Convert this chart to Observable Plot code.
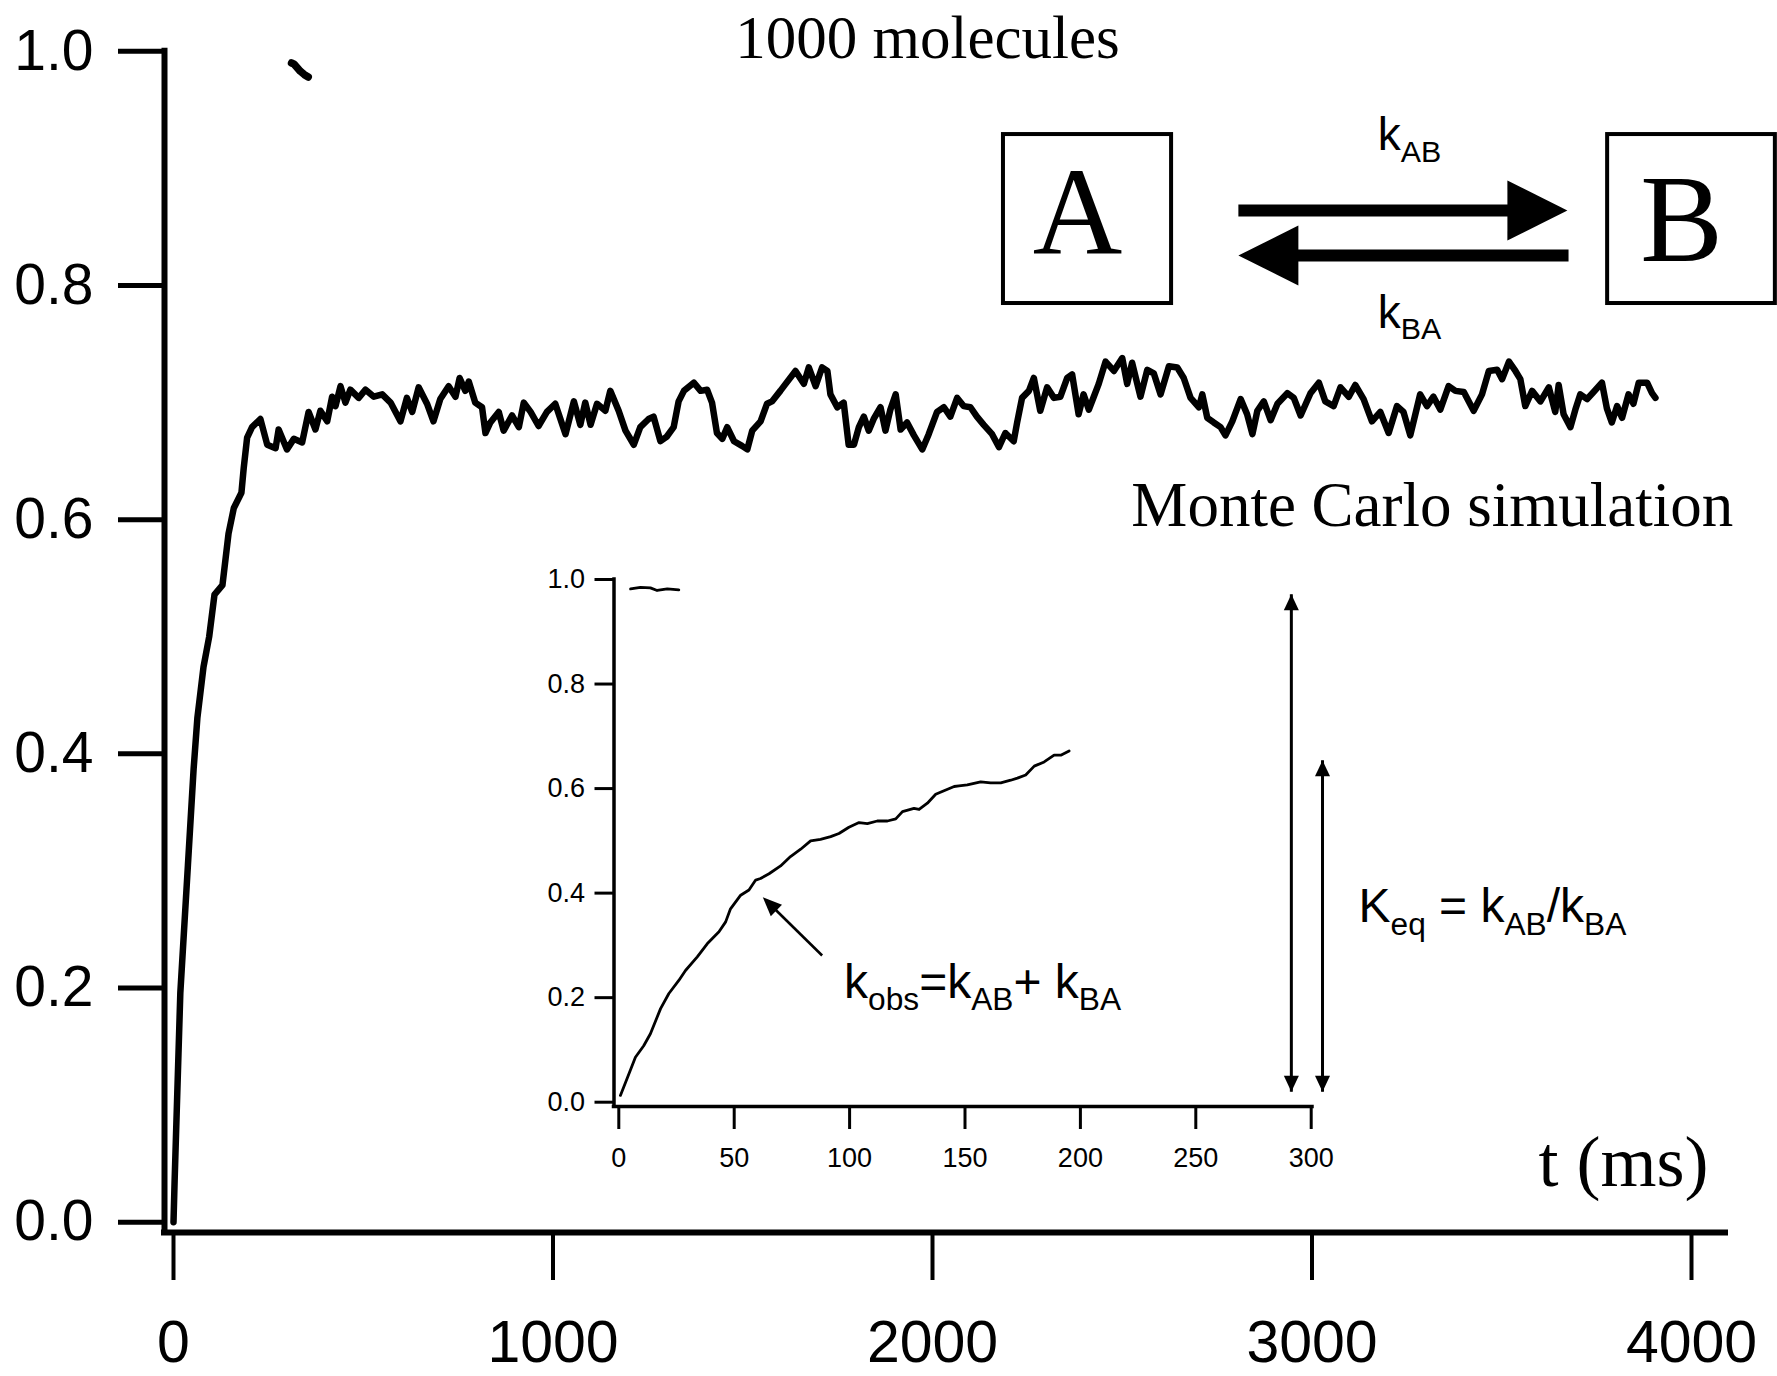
<!DOCTYPE html>
<html><head><meta charset="utf-8">
<script src="https://cdn.jsdelivr.net/npm/d3@7"></script>
<script src="https://cdn.jsdelivr.net/npm/@observablehq/plot@0.6"></script>
<style>
html,body{margin:0;padding:0;background:#fff;overflow:hidden}
#chart{position:relative;width:1777px;height:1376px;background:#fff}
#chart svg{position:absolute;left:0;top:0;max-width:none!important}
</style>
</head><body><div id="chart"></div>
<script>
// ---------- data ----------
const mainT = [0,3,18,38,53,63,79,94,108,129,145,159,179,185,194,207,229,247,269,277,299,317,339,356,374,387,405,418,427,440,453,466,488,506,528,550,572,598,615,629,646,668,685,703,725,743,754,769,778,795,813,822,835,857,870,892,910,923,941,962,984,1006,1033,1055,1072,1085,1099,1116,1138,1151,1173,1191,1213,1230,1252,1265,1283,1300,1318,1331,1345,1371,1389,1406,1419,1432,1446,1459,1477,1498,1512,1525,1547,1564,1577,1599,1613,1639,1661,1674,1692,1709,1723,1731,1749,1766,1779,1793,1806,1819,1832,1845,1863,1876,1889,1903,1916,1933,1951,1973,1990,2012,2030,2047,2065,2082,2100,2117,2135,2157,2175,2192,2214,2223,2236,2254,2267,2284,2302,2320,2337,2355,2368,2385,2398,2412,2425,2438,2456,2478,2500,2513,2526,2548,2566,2583,2601,2623,2645,2662,2680,2702,2711,2724,2741,2759,2772,2790,2812,2829,2843,2856,2873,2891,2909,2935,2952,2970,2996,3018,3035,3057,3075,3097,3114,3136,3158,3180,3202,3224,3241,3259,3285,3303,3320,3338,3360,3378,3400,3426,3448,3466,3488,3501,3519,3536,3549,3562,3580,3602,3624,3641,3650,3663,3681,3694,3707,3725,3742,3764,3777,3790,3804,3817,3834,3847,3861,3883,3896,3905];
const mainV = [0,0.036,0.196,0.305,0.387,0.431,0.474,0.500,0.536,0.544,0.588,0.610,0.623,0.644,0.670,0.679,0.686,0.664,0.661,0.677,0.660,0.669,0.666,0.692,0.677,0.693,0.684,0.705,0.697,0.714,0.700,0.711,0.704,0.711,0.705,0.707,0.700,0.684,0.704,0.692,0.713,0.699,0.684,0.703,0.714,0.705,0.721,0.710,0.718,0.700,0.696,0.674,0.683,0.692,0.676,0.689,0.679,0.700,0.692,0.680,0.692,0.699,0.673,0.701,0.681,0.700,0.681,0.699,0.693,0.710,0.693,0.676,0.664,0.679,0.686,0.688,0.667,0.671,0.679,0.701,0.710,0.717,0.710,0.711,0.700,0.674,0.669,0.679,0.667,0.663,0.660,0.676,0.684,0.699,0.701,0.710,0.716,0.727,0.716,0.730,0.714,0.730,0.727,0.707,0.696,0.700,0.664,0.664,0.679,0.688,0.676,0.686,0.696,0.676,0.694,0.707,0.677,0.683,0.672,0.660,0.673,0.692,0.696,0.688,0.704,0.697,0.696,0.688,0.681,0.673,0.662,0.674,0.667,0.683,0.704,0.710,0.721,0.693,0.713,0.704,0.705,0.721,0.724,0.690,0.707,0.694,0.705,0.716,0.735,0.727,0.738,0.716,0.734,0.705,0.728,0.725,0.707,0.731,0.730,0.721,0.704,0.696,0.707,0.687,0.683,0.679,0.672,0.684,0.703,0.690,0.673,0.693,0.701,0.685,0.699,0.708,0.704,0.689,0.708,0.717,0.701,0.697,0.713,0.705,0.715,0.703,0.684,0.692,0.674,0.697,0.692,0.672,0.707,0.697,0.705,0.694,0.714,0.710,0.709,0.693,0.707,0.727,0.728,0.720,0.735,0.727,0.720,0.697,0.710,0.701,0.713,0.692,0.715,0.690,0.679,0.694,0.707,0.703,0.709,0.717,0.695,0.683,0.697,0.687,0.707,0.699,0.717,0.717,0.708,0.704];
const blipT = [311,318,326,334,345,355];
const blipV = [0.990,0.989,0.986,0.983,0.980,0.978];

const insetT = [0.7,5,7.2,10.8,13.7,18.1,21.7,26,28.9,34,38.3,43.4,46.3,48.4,52.8,56.4,59.3,61.4,65.1,70.1,74.4,78.8,83.1,87.4,91.8,95.4,99.7,104.1,107.7,112,116.4,120,122.9,127.9,130.1,133.7,137.3,140.9,145.3,147.4,151,156.8,161.1,165.5,169.8,172.7,176.3,180,184.3,188.6,191.5,195.1];
const insetV = [0.013,0.061,0.086,0.108,0.131,0.179,0.208,0.233,0.252,0.278,0.303,0.326,0.345,0.370,0.396,0.406,0.425,0.428,0.437,0.452,0.470,0.484,0.500,0.503,0.508,0.514,0.526,0.535,0.533,0.538,0.538,0.542,0.556,0.562,0.560,0.572,0.589,0.596,0.604,0.605,0.607,0.613,0.611,0.611,0.616,0.620,0.626,0.643,0.651,0.664,0.664,0.672];
const insetBlipT = [5.1,9.4,13.7,16.6,21,26];
const insetBlipV = [0.982,0.985,0.984,0.979,0.982,0.980];

const mainXTicks = [0,1000,2000,3000,4000];
const mainYTicks = [0,0.2,0.4,0.6,0.8,1.0];
const insetXTicks = [0,50,100,150,200,250,300];
const insetYTicks = [0,0.2,0.4,0.6,0.8,1.0];

const titleText = "1000 molecules";
const methodText = "Monte Carlo simulation";
const axisText = "t (ms)";
const stateA = "A", stateB = "B";
const rateAB = "k_{AB}", rateBA = "k_{BA}";
const kobsText = "k_{obs}=k_{AB}+ k_{BA}";
const keqText = "K_{eq} = k_{AB}/k_{BA}";

// ---------- rendering ----------
const W = 1777, H = 1376;
const SANS = "'Liberation Sans', Arial, sans-serif";
const SERIF = "'Liberation Serif', 'Times New Roman', serif";
const mainData = mainT.map((t, i) => ({t, v: mainV[i]}));
const blipData = blipT.map((t, i) => ({t, v: blipV[i]}));
const insetData = insetT.map((t, i) => ({t, v: insetV[i]}));
const insetBlipData = insetBlipT.map((t, i) => ({t, v: insetBlipV[i]}));

// filled arrow-head symbol: tip at the anchor point, pointing at angle deg (0 = up, clockwise)
function head(deg, ratio) {
  const a = deg * Math.PI / 180;
  const ux = Math.sin(a), uy = -Math.cos(a);
  return {draw(ctx, size) {
    const L = Math.sqrt(size / Math.PI), w = L * ratio;
    const bx = -ux * L, by = -uy * L, px = -uy, py = ux;
    ctx.moveTo(0, 0);
    ctx.lineTo(bx + px * w, by + py * w);
    ctx.lineTo(bx - px * w, by - py * w);
    ctx.closePath();
  }};
}
const one = [0];

const mainPlot = Plot.plot({
  width: W, height: H,
  marginLeft: 164, marginRight: 52, marginTop: 50.8, marginBottom: 144,
  x: {domain: [0, 4000], range: [173, 1691]},
  y: {domain: [0, 1], range: [1221.7, 50.8]},
  style: {background: "white", color: "black", fontFamily: SANS, overflow: "visible"},
  marks: [
    Plot.axisX(mainXTicks, {tickSize: 48, tickPadding: 40, tickFormat: "d", fontSize: 59, fontFamily: SANS, strokeWidth: 4, label: null}),
    Plot.axisY(mainYTicks, {tickSize: 46, tickPadding: 25, tickFormat: ".1f", fontSize: 57, fontFamily: SANS, strokeWidth: 5, label: null}),
    Plot.ruleX(one, {dx: -9, stroke: "black", strokeWidth: 6, strokeLinecap: "square"}),
    Plot.ruleY(one, {dy: 10.3, stroke: "black", strokeWidth: 6, strokeLinecap: "square"}),
    Plot.line(mainData, {x: "t", y: "v", stroke: "black", strokeWidth: 6.5, strokeLinejoin: "round", strokeLinecap: "round"}),
    Plot.line(blipData, {x: "t", y: "v", stroke: "black", strokeWidth: 7.5, strokeLinecap: "round"}),
    Plot.text([titleText], {x: 1987, y: 0.9947, lineAnchor: "bottom", textAnchor: "middle", fontSize: 61, fontFamily: SERIF}),
    Plot.text([methodText], {x: 2524, y: 0.5942, lineAnchor: "bottom", textAnchor: "start", fontSize: 63, fontFamily: SERIF}),
    Plot.text([axisText], {x: 3597, y: 0.0305, lineAnchor: "bottom", textAnchor: "start", fontSize: 72, fontFamily: SERIF}),
    Plot.rect(one, {x1: 2187, x2: 2630, y1: 0.7846, y2: 0.9289, fill: "none", stroke: "black", strokeWidth: 4}),
    Plot.rect(one, {x1: 3779, x2: 4221, y1: 0.7846, y2: 0.9289, fill: "none", stroke: "black", strokeWidth: 4}),
    Plot.text([stateA], {x: 2382, y: 0.8265, lineAnchor: "bottom", textAnchor: "middle", fontSize: 124, fontFamily: SERIF}),
    Plot.text([stateB], {x: 3974, y: 0.8206, lineAnchor: "bottom", textAnchor: "middle", fontSize: 124, fontFamily: SERIF}),
    Plot.link(one, {x1: 2806, x2: 3520, y1: 0.8641, y2: 0.8641, stroke: "black", strokeWidth: 12}),
    Plot.dot(one, {x: 3673, y: 0.8641, r: 60, symbol: head(90, 0.5), fill: "black", stroke: "none"}),
    Plot.link(one, {x1: 2959, x2: 3676, y1: 0.8256, y2: 0.8256, stroke: "black", strokeWidth: 12}),
    Plot.dot(one, {x: 2806, y: 0.8256, r: 60, symbol: head(-90, 0.5), fill: "black", stroke: "none"}),
    Plot.text([rateAB], {x: 3173, y: 0.9153, lineAnchor: "bottom", textAnchor: "start", fontSize: 46, fontFamily: SANS}),
    Plot.text([rateBA], {x: 3173, y: 0.7641, lineAnchor: "bottom", textAnchor: "start", fontSize: 46, fontFamily: SANS})
  ]
});

const insetPlot = Plot.plot({
  width: W, height: H,
  marginLeft: 613.5, marginRight: 465, marginTop: 579, marginBottom: 270,
  x: {domain: [0, 300], range: [618.3, 1310.7]},
  y: {domain: [0, 1], range: [1101.7, 579]},
  style: {background: "transparent", color: "black", fontFamily: SANS, overflow: "visible"},
  marks: [
    Plot.axisX(insetXTicks, {tickSize: 23, tickPadding: 18, tickFormat: "d", fontSize: 27, fontFamily: SANS, strokeWidth: 3, label: null}),
    Plot.axisY(insetYTicks, {tickSize: 19, tickPadding: 10, tickFormat: ".1f", fontSize: 27, fontFamily: SANS, strokeWidth: 3, label: null}),
    Plot.ruleX(one, {dx: -4.8, stroke: "black", strokeWidth: 3.5, strokeLinecap: "square"}),
    Plot.ruleY(one, {dy: 4.3, stroke: "black", strokeWidth: 3.5, strokeLinecap: "square"}),
    Plot.line(insetData, {x: "t", y: "v", stroke: "black", strokeWidth: 2.8, strokeLinejoin: "round"}),
    Plot.line(insetBlipData, {x: "t", y: "v", stroke: "black", strokeWidth: 2.8}),
    Plot.link(one, {x1: 291.4, x2: 291.4, y1: 0.020, y2: 0.972, stroke: "black", strokeWidth: 3}),
    Plot.dot(one, {x: 291.4, y: 0.972, r: 16, symbol: head(0, 0.47), fill: "black", stroke: "none"}),
    Plot.dot(one, {x: 291.4, y: 0.020, r: 16, symbol: head(180, 0.47), fill: "black", stroke: "none"}),
    Plot.link(one, {x1: 304.9, x2: 304.9, y1: 0.020, y2: 0.654, stroke: "black", strokeWidth: 3}),
    Plot.dot(one, {x: 304.9, y: 0.654, r: 16, symbol: head(0, 0.47), fill: "black", stroke: "none"}),
    Plot.dot(one, {x: 304.9, y: 0.020, r: 16, symbol: head(180, 0.47), fill: "black", stroke: "none"}),
    Plot.link(one, {x1: 88.1, y1: 0.2807, x2: 64.5, y2: 0.383, stroke: "black", strokeWidth: 2.6}),
    Plot.dot(one, {x: 62.4, y: 0.3922, r: 19, symbol: head(-45.6, 0.42), fill: "black", stroke: "none"}),
    Plot.text([keqText], {x: 320.5, y: 0.3444, lineAnchor: "bottom", textAnchor: "start", fontSize: 48, fontFamily: SANS}),
    Plot.text([kobsText], {x: 97.6, y: 0.2003, lineAnchor: "bottom", textAnchor: "start", fontSize: 48, fontFamily: SANS})
  ]
});

const host = document.getElementById("chart");
host.appendChild(mainPlot);
host.appendChild(insetPlot);
insetPlot.style.background = "transparent";
insetPlot.style.pointerEvents = "none";

// turn "_{...}" segments into real subscript tspans
function applySubscripts(svg) {
  svg.querySelectorAll("text").forEach(t => {
    const s = t.textContent;
    if (!s.includes("_{")) return;
    const F = parseFloat(getComputedStyle(t).fontSize);
    const parts = [];
    const re = /_\{([^}]*)\}/g; let last = 0, m;
    while ((m = re.exec(s))) {
      if (m.index > last) parts.push([s.slice(last, m.index), false]);
      parts.push([m[1], true]);
      last = re.lastIndex;
    }
    if (last < s.length) parts.push([s.slice(last), false]);
    while (t.firstChild) t.removeChild(t.firstChild);
    let cur = 0;
    for (const [txt, sub] of parts) {
      const ts = document.createElementNS("http://www.w3.org/2000/svg", "tspan");
      const target = sub ? 0.26 * F : 0;
      ts.setAttribute("dy", (target - cur).toFixed(2));
      cur = target;
      ts.setAttribute("font-size", (sub ? 0.66 * F : F).toFixed(2));
      ts.textContent = txt;
      t.appendChild(ts);
    }
  });
}
applySubscripts(mainPlot);
applySubscripts(insetPlot);
</script></body></html>
